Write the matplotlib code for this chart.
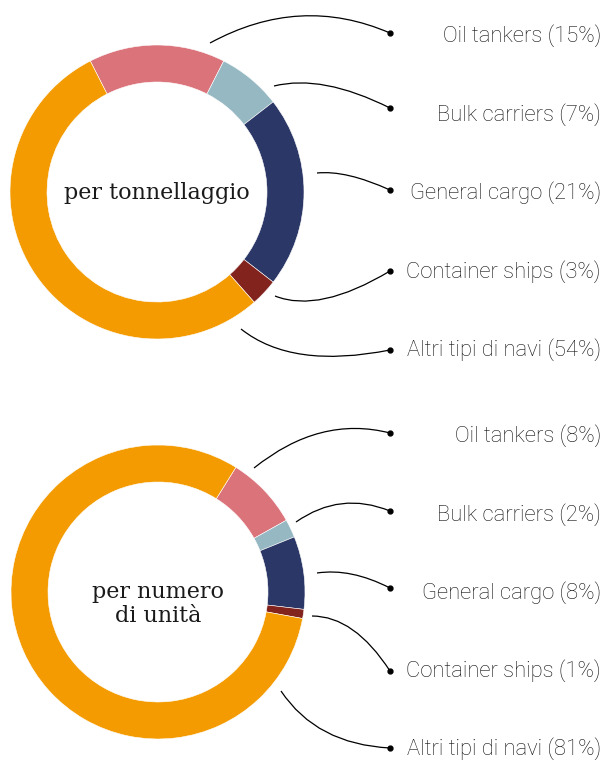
import matplotlib.pyplot as plt
from matplotlib.path import Path
from matplotlib.patches import PathPatch

W, H = 606, 761

categories = ["Oil tankers", "Bulk carriers", "General cargo", "Container ships", "Altri tipi di navi"]
tonnage_share = [15, 7, 21, 3, 54]
units_share = [8, 2, 8, 1, 81]
colors = ["#DB737B", "#96B8C2", "#2B3766", "#82231E", "#F39B00"]


def py(y):
    # pixel y (from top) -> data y (from bottom)
    return H - y


fig = plt.figure(figsize=(W / 100, H / 100), dpi=100)
ax = fig.add_axes([0, 0, 1, 1])

# layout of the two donuts: centre, start angle, centre text
donuts = [
    dict(values=tonnage_share, center=(157, py(192)), start=117,
         title="per tonnellaggio", title_y=193,
         text_y=[36, 115, 192.5, 272, 349.5],
         dot_y=[33, 108, 190, 271, 350],
         curves=[((210, 43), (300, -6)),
                 ((274, 86), (322, 74)),
                 ((317, 173), (346, 170)),
                 ((275, 296), (319, 313.6)),
                 ((241, 329), (292, 369.6))]),
    dict(values=units_share, center=(158, py(592)), start=58,
         title="per numero\ndi unità", title_y=604,
         text_y=[436, 515, 592.5, 671, 749],
         dot_y=[433, 511, 588, 671, 748],
         curves=[((254, 468), (320, 415)),
                 ((296, 522), (340.5, 490.8)),
                 ((317, 573), (350.8, 567.9)),
                 ((312, 616), (354.3, 616)),
                 ((281, 691), (316.5, 744.3))]),
]

dot_x = 390
for d in donuts:
    ax.pie(d["values"], colors=colors, startangle=d["start"], counterclock=False,
           radius=147, center=d["center"],
           wedgeprops=dict(width=37, edgecolor="white", linewidth=0.4))
    ax.text(d["center"][0], py(d["title_y"]), d["title"], ha="center", va="center",
            fontsize=16, family="DejaVu Serif", color="#1a1a1a", linespacing=1.15)

    for cat, val, ty, dy, (p0, c) in zip(categories, d["values"], d["text_y"],
                                          d["dot_y"], d["curves"]):
        verts = [(p0[0], py(p0[1])), (c[0], py(c[1])), (dot_x, py(dy))]
        path = Path(verts, [Path.MOVETO, Path.CURVE3, Path.CURVE3])
        ax.add_patch(PathPatch(path, fill=False, lw=0.9, color="black"))
        ax.plot(dot_x, py(dy), "o", ms=3.5, color="black")
        ax.text(601, py(ty), f"{cat} ({val}%)", ha="right", va="center",
                fontsize=15.8, family="Roboto", fontweight="light", color="#111111")

ax.set_xlim(0, W)
ax.set_ylim(0, H)
ax.set_aspect("equal")
ax.axis("off")

plt.savefig("out.png", dpi=100)
